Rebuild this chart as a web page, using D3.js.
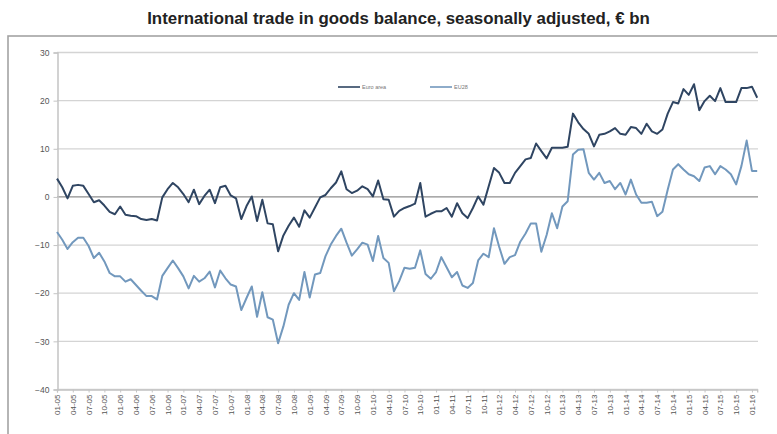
<!DOCTYPE html>
<html><head><meta charset="utf-8">
<script src="https://cdn.jsdelivr.net/npm/d3@7"></script>
<style>
html,body{margin:0;padding:0;background:#fff;}
svg{display:block;}
</style></head>
<body><svg id="c" width="777" height="434"></svg>
<script>
// ---- data ----
const startYear = 2005, startMonth = 1, nMonths = 134; // Jan 2005 .. Feb 2016
const categories = [];
for (let k = 0; k < nMonths; k++) {
  const m = (startMonth - 1 + k) % 12 + 1;
  const y = startYear + Math.floor((startMonth - 1 + k) / 12);
  categories.push(String(m).padStart(2, "0") + "-" + String(y % 100).padStart(2, "0"));
}
const seriesNames = ["Euro area", "EU28"];
const euroArea = [
  3.7, 1.9, -0.4, 2.2, 2.4, 2.2, 0.5, -1.2, -0.8, -1.9,
  -3.2, -3.7, -2.1, -3.8, -4.0, -4.1, -4.7, -4.9, -4.7, -5.0,
  -0.2, 1.5, 2.8, 1.9, 0.5, -1.2, 1.4, -1.6, 0.1, 1.4,
  -1.4, 1.9, 2.2, 0.2, -0.4, -4.7, -2.0, 0.0, -5.1, -0.7,
  -5.6, -5.8, -11.4, -8.1, -6.1, -4.4, -6.3, -2.9, -4.4, -2.3,
  -0.2, 0.3, 1.7, 2.9, 5.2, 1.5, 0.7, 1.2, 2.1, 1.5,
  0.0, 3.3, -0.6, -0.7, -4.2, -3.0, -2.4, -2.0, -1.5, 2.8,
  -4.2, -3.6, -3.1, -3.1, -2.4, -4.2, -1.4, -3.5, -4.5, -2.4,
  0.0, -1.7, 2.1, 5.9, 4.9, 2.8, 2.8, 4.9, 6.3, 7.7,
  8.0, 11.0, 9.4, 7.9, 10.1, 10.1, 10.1, 10.3, 17.2, 15.4,
  14.0, 13.0, 10.4, 12.8, 13.0, 13.5, 14.2, 13.0, 12.8, 14.4,
  14.2, 13.0, 15.1, 13.5, 13.0, 13.9, 17.2, 19.6, 19.3, 22.3,
  21.1, 23.3, 17.9, 19.8, 20.9, 19.8, 22.5, 19.6, 19.6, 19.6,
  22.5, 22.5, 22.8, 20.5
];
const eu28 = [
  -7.4, -9.0, -10.9, -9.5, -8.6, -8.6, -10.3, -12.8, -11.7, -13.5,
  -15.9, -16.6, -16.6, -17.7, -17.2, -18.4, -19.6, -20.7, -20.7, -21.4,
  -16.5, -14.9, -13.3, -14.9, -16.6, -19.1, -16.5, -17.7, -17.0, -15.6,
  -18.9, -15.4, -17.0, -18.3, -18.7, -23.6, -21.1, -18.7, -25.0, -19.9,
  -25.1, -25.6, -30.5, -27.0, -22.5, -20.1, -21.5, -15.7, -21.0, -16.2,
  -15.9, -12.4, -10.0, -8.2, -6.7, -9.6, -12.3, -11.0, -9.6, -10.0,
  -13.4, -8.2, -12.8, -13.8, -19.7, -17.6, -14.8, -15.0, -14.8, -11.2,
  -16.1, -17.1, -15.7, -12.6, -14.7, -16.8, -15.7, -18.5, -19.0, -18.0,
  -13.3, -11.9, -12.6, -6.6, -10.5, -14.0, -12.6, -12.2, -9.4, -7.7,
  -5.6, -5.6, -11.5, -8.0, -3.5, -6.6, -2.1, -1.0, 8.7, 9.7,
  9.8, 4.9, 3.5, 4.9, 2.8, 3.2, 1.5, 2.8, 0.4, 3.5,
  0.4, -1.3, -1.3, -1.1, -4.1, -3.2, 1.4, 5.6, 6.7, 5.6,
  4.6, 4.2, 3.2, 6.0, 6.3, 4.6, 6.3, 5.6, 4.6, 2.5,
  6.3, 11.6, 5.3, 5.3
];
const yTicks = [-40, -30, -20, -10, 0, 10, 20, 30];
const xTickEvery = 3;
const titleText = "International trade in goods balance, seasonally adjusted, € bn";

// ---- drawing ----
const svg = d3.select("#c");
const colors = ["#2f4562", "#7298bd"];

// outer frame
svg.append("rect").attr("x", 8).attr("y", 36).attr("width", 800).attr("height", 420)
  .attr("fill", "none").attr("stroke", "#a3a3a3").attr("stroke-width", 1.6);

// title
const title = svg.append("text").attr("x", 398.5).attr("y", 24)
  .attr("text-anchor", "middle").attr("font-family", "Liberation Sans, Arial, sans-serif")
  .attr("font-weight", "bold").attr("font-size", 14).attr("fill", "#222").text(titleText);
const tw = title.node().getComputedTextLength();
title.attr("font-size", 14 * 503 / tw);

const x = d3.scalePoint().domain(categories).range([57, 757.2]);
const y = d3.scaleLinear().domain([-40, 30]).range([389, 52]);

// gridlines
svg.append("g").selectAll("line").data(yTicks).join("line")
  .attr("x1", 57).attr("x2", 758)
  .attr("y1", d => y(d) + 0.5).attr("y2", d => y(d) + 0.5)
  .attr("stroke", d => d === 0 ? "#8e8e8e" : "#d4d4d4").attr("stroke-width", d => d === 0 ? 1.2 : 1.3);

// y axis
const yAxis = svg.append("g").attr("transform", "translate(57.5,0.5)")
  .call(d3.axisLeft(y).tickValues(yTicks).tickSize(4).tickPadding(4));
yAxis.select(".domain").attr("stroke", "#c4c4c4").attr("stroke-width", 1.5);
yAxis.selectAll(".tick line").attr("stroke", "#c4c4c4");
yAxis.selectAll("text").attr("font-family", "Liberation Sans, Arial, sans-serif")
  .attr("font-size", 8.5).attr("fill", "#555");

// x axis
const xAxis = svg.append("g").attr("transform", "translate(0,389.5)")
  .call(d3.axisBottom(x).tickValues(categories.filter((d, i) => i % xTickEvery === 0))
    .tickSize(3).tickPadding(3));
xAxis.select(".domain").attr("stroke", "#c4c4c4").attr("stroke-width", 1.3);
xAxis.selectAll(".tick line").attr("stroke", "#c4c4c4");
xAxis.selectAll("text").attr("font-family", "Liberation Sans, Arial, sans-serif")
  .attr("font-size", 8).attr("fill", "#555")
  .attr("transform", "rotate(-90)").attr("text-anchor", "end")
  .attr("x", -5).attr("y", 0).attr("dy", "0.32em");

// lines
const line = d3.line().x((d, i) => x(categories[i])).y(d => y(d));
[euroArea, eu28].forEach((s, k) => {
  svg.append("path").datum(s).attr("d", line).attr("fill", "none")
    .attr("stroke", colors[k]).attr("stroke-width", 2).attr("stroke-linejoin", "round");
});

// legend
const legendX = [338, 430];
const lg = svg.append("g");
seriesNames.forEach((n, k) => {
  lg.append("line").attr("x1", legendX[k]).attr("x2", legendX[k] + 22)
    .attr("y1", 87).attr("y2", 87).attr("stroke", colors[k]).attr("stroke-width", 1.6);
  lg.append("text").attr("x", legendX[k] + 24).attr("y", 87).attr("dy", "0.35em")
    .attr("font-family", "Liberation Sans, Arial, sans-serif").attr("font-size", 5.5)
    .attr("fill", "#777").text(n);
});
</script></body></html>
